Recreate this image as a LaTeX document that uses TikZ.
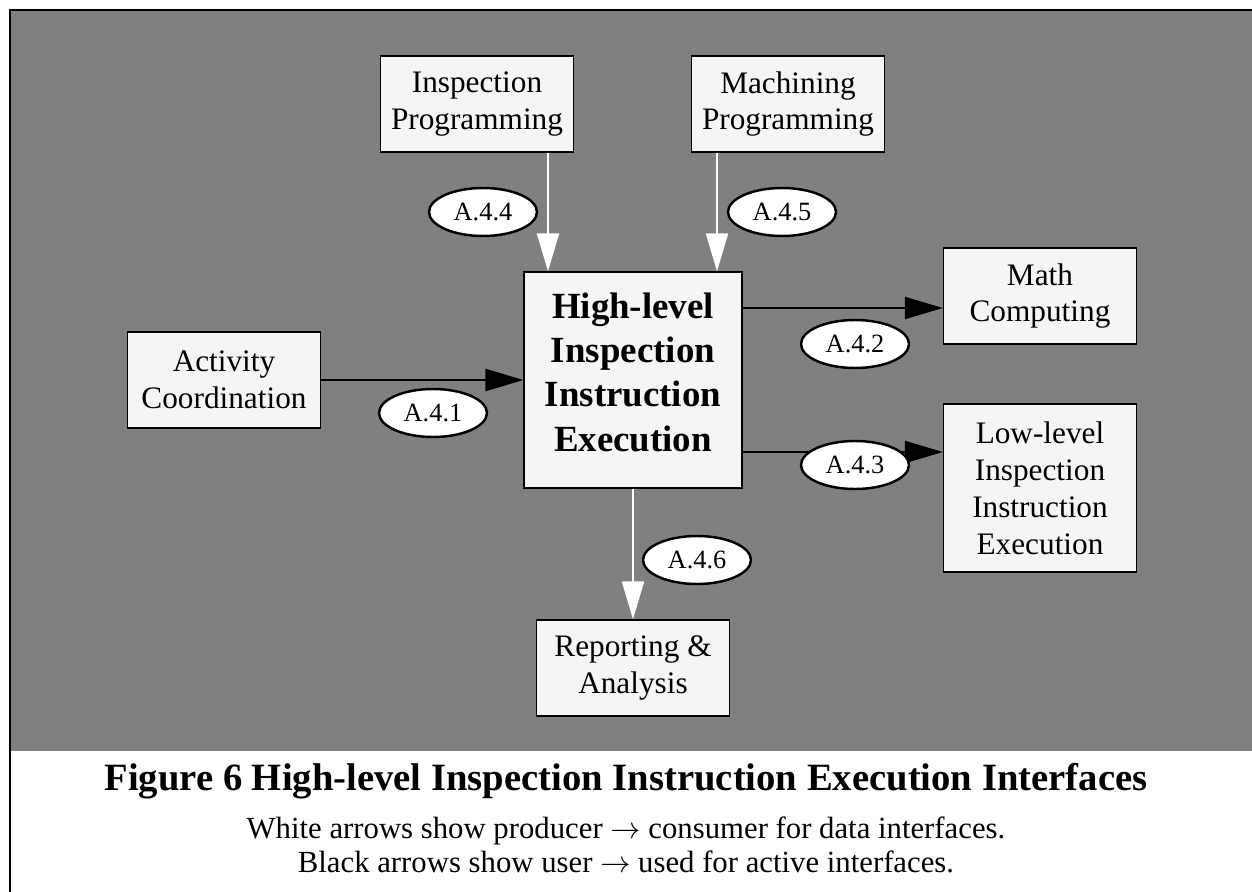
\documentclass[tikz,border=0pt]{standalone}
\usepackage{fontspec}
\setmainfont{Liberation Serif}
\usetikzlibrary{arrows.meta,shapes.geometric}

\tikzset{
  unit/.style={draw=black, fill=white!96!black, line width=0.8pt, align=center, font=\fontsize{17.8}{21}\selectfont, inner sep=1pt, minimum width=3.86cm, minimum height=1.92cm},
  tag/.style={draw=black, fill=white, ellipse, line width=1.4pt, font=\fontsize{15}{17}\selectfont, minimum width=2.16cm, minimum height=0.96cm, inner sep=0pt},
  dataflow/.style={draw=white, line width=1.4pt, -{Triangle[length=0.76cm, width=0.44cm, fill=white]}},
  useflow/.style={draw=black, line width=1.4pt, -{Triangle[length=0.76cm, width=0.44cm, fill=black]}}
}

\begin{document}
\begin{tikzpicture}[x=0.02cm, y=-0.02cm]
\useasboundingbox (0,0) rectangle (1252,892);
\fill[white] (0,0) rectangle (1252,892);
\fill[gray] (10,10) rectangle (1252,751);
\draw[line width=1.7pt] (10,900) -- (10,10) -- (1260,10);

\node[unit] (insprog) at (477,104) {Inspection\\Programming};
\node[unit] (machprog) at (788,104) {Machining\\Programming};
\node[unit, minimum width=4.36cm, minimum height=4.32cm, text depth=0.32cm, font=\bfseries\fontsize{21}{25.2}\selectfont] (hlexec) at (633,380) {High-level\\Inspection\\Instruction\\Execution};
\node[unit] (actcoord) at (224,380) {Activity\\Coordination};
\node[unit] (mathcomp) at (1040,296) {Math\\Computing};
\node[unit, minimum height=3.36cm] (llexec) at (1040,488) {Low-level\\Inspection\\Instruction\\Execution};
\node[unit] (report) at (633,668) {Reporting \&\\Analysis};

\draw[dataflow] (insprog.south -| 548,0) -- (hlexec.north -| 548,0);
\draw[dataflow] (machprog.south -| 717,0) -- (hlexec.north -| 717,0);
\draw[dataflow] (hlexec.south -| report.north) -- (report.north);
\draw[useflow] (actcoord.east) -- (hlexec.west |- actcoord.east);
\draw[useflow] (hlexec.east |- 0,308) -- (mathcomp.west |- 0,308);
\draw[useflow] (hlexec.east |- 0,452) -- (llexec.west |- 0,452);

\node[tag] (t441) at (433,413) {A.4.1};
\node[tag] (t442) at (855,344) {A.4.2};
\node[tag] (t443) at (855,465) {A.4.3};
\node[tag] (t444) at (483,212) {A.4.4};
\node[tag] (t445) at (782,212) {A.4.5};
\node[tag] (t446) at (697,560) {A.4.6};

\node[font=\bfseries\fontsize{22}{24}\selectfont] (title) at (626,781) {Figure 6 High-level Inspection Instruction Execution Interfaces};
\node[font=\fontsize{17.5}{19.3}\selectfont, align=center] (legend) at (626,845) {White arrows show producer $\rightarrow$ consumer for data interfaces.\\Black arrows show user $\rightarrow$ used for active interfaces.};
\end{tikzpicture}
\end{document}
